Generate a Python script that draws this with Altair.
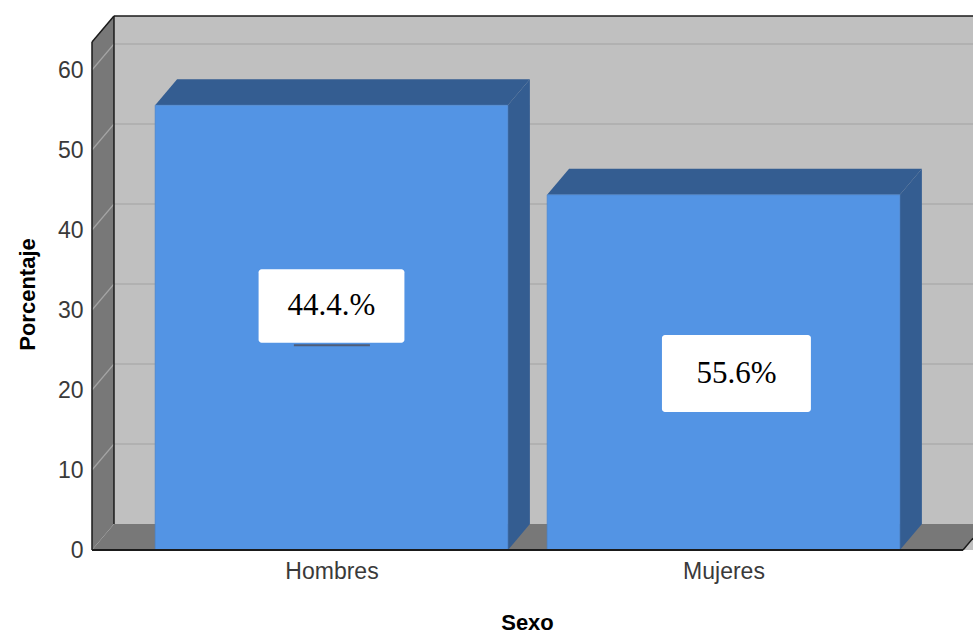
import altair as alt
import pandas as pd

# ---------------- data ----------------
categories = ["Hombres", "Mujeres"]
cat_pos = [1, 2]
percentages = [55.6, 44.4]
label_texts = ["44.4.%", "55.6%"]
label_pos_x = [1.0, 2.033]
label_pos_y = [30.5, 22.06]
y_ticks = [0, 10, 20, 30, 40, 50, 60]
grid_values = [10, 20, 30, 40, 50, 60]

# ---------------- geometry / style ----------------
X_MIN, X_MAX = 0.389, 2.6365
FLOOR_END = 2.611
DX, DY = 0.0561, 3.25
WALL_TOP = 63.5
Y_MAX = WALL_TOP + DY
HALF_W = 0.45
BOX_HW = [0.186, 0.19]
BOX_HH = [4.6, 4.8]

WALL = "#c0c0c0"
SIDE = "#787878"
GRID = "#adadad"
SIDE_GRID = "#a4a4a4"
FRONT = "#5394e4"
DARK = "#345d91"

xs = alt.Scale(domain=[X_MIN, X_MAX], nice=False, zero=False)
ys = alt.Scale(domain=[0, Y_MAX], nice=False, zero=False)

label_expr = " : ".join(f"datum.value == {p} ? '{c}'" for p, c in zip(cat_pos, categories)) + " : ''"

x_axis = alt.Axis(values=cat_pos, labelExpr=label_expr, title="Sexo", grid=False, ticks=False,
                  domain=False, labelFontSize=23, labelFont="Liberation Sans", labelColor="#3a3a3a",
                  labelPadding=10, titleFont="Liberation Sans", titleFontSize=22,
                  titleFontWeight="bold", titleColor="#000000", titleX=435, titleY=72,
                  titleAlign="center", titleBaseline="middle")
y_axis = alt.Axis(values=y_ticks, title="Porcentaje", grid=False, ticks=False, domain=False,
                  labelFontSize=23, labelFont="Liberation Sans", labelColor="#3a3a3a",
                  labelPadding=9, titleFont="Liberation Sans", titleFontSize=22,
                  titleFontWeight="bold", titleColor="#000000", titleX=-65, titleY=278,
                  titleAngle=270, titleAlign="center", titleBaseline="middle")


def X(field):
    return alt.X(field, scale=xs, axis=x_axis)


def Y(field):
    return alt.Y(field, scale=ys, axis=y_axis)


# back wall
wall_df = pd.DataFrame({"x": [X_MIN + DX], "x2": [X_MAX], "y": [0], "y2": [Y_MAX]})
back_wall = alt.Chart(wall_df).mark_rect(color=WALL).encode(
    x=X("x:Q"), x2="x2:Q", y=Y("y:Q"), y2="y2:Q",
)

# back wall gridlines
grid_df = pd.DataFrame({"x": [X_MIN + DX] * len(grid_values), "x2": [X_MAX] * len(grid_values),
                        "y": [v + DY for v in grid_values]})
back_grid = alt.Chart(grid_df).mark_rule(color=GRID, strokeWidth=1.5).encode(
    x=X("x:Q"), x2="x2:Q", y=Y("y:Q"),
)

# floor
floor_low_end = (X_MAX - FLOOR_END) / DX * DY
floor_df = pd.DataFrame({
    "x": [X_MIN, X_MIN + DX, FLOOR_END, X_MAX],
    "lo": [0, 0, 0, floor_low_end],
    "hi": [0, DY, DY, DY],
})
floor = alt.Chart(floor_df).mark_area(color=SIDE, orient="vertical", opacity=1).encode(
    x=X("x:Q"), y=Y("lo:Q"), y2="hi:Q",
)

# left side wall
side_df = pd.DataFrame({"x": [X_MIN, X_MIN + DX], "lo": [0, DY], "hi": [WALL_TOP, Y_MAX]})
side_wall = alt.Chart(side_df).mark_area(color=SIDE, orient="vertical", opacity=1).encode(
    x=X("x:Q"), y=Y("lo:Q"), y2="hi:Q",
)

side_grid_df = pd.DataFrame({"x": [X_MIN] * len(grid_values), "x2": [X_MIN + DX] * len(grid_values),
                             "y": grid_values, "y2": [v + DY for v in grid_values]})
side_grid = alt.Chart(side_grid_df).mark_rule(color=SIDE_GRID, strokeWidth=1.2).encode(
    x=X("x:Q"), x2="x2:Q", y=Y("y:Q"), y2="y2:Q",
)

# bars
bar_df = pd.DataFrame({"cat": categories, "pos": cat_pos, "val": percentages})
bar_df["x1"] = bar_df["pos"] - HALF_W
bar_df["x2"] = bar_df["pos"] + HALF_W
bar_df["zero"] = 0.0

side_rows, top_rows = [], []
for c, p, v in zip(categories, cat_pos, percentages):
    l, r = p - HALF_W, p + HALF_W
    side_rows += [{"cat": c, "x": r, "lo": 0, "hi": v},
                  {"cat": c, "x": r + DX, "lo": DY, "hi": v + DY}]
    top_rows += [{"cat": c, "x": l, "lo": v, "hi": v},
                 {"cat": c, "x": l + DX, "lo": v, "hi": v + DY},
                 {"cat": c, "x": r, "lo": v, "hi": v + DY},
                 {"cat": c, "x": r + DX, "lo": v + DY, "hi": v + DY}]

bar_sides = alt.Chart(pd.DataFrame(side_rows)).mark_area(color=DARK, orient="vertical", opacity=1).encode(
    x=X("x:Q"), y=Y("lo:Q"), y2="hi:Q", detail="cat:N",
)
bar_tops = alt.Chart(pd.DataFrame(top_rows)).mark_area(color=DARK, orient="vertical", opacity=1).encode(
    x=X("x:Q"), y=Y("lo:Q"), y2="hi:Q", detail="cat:N",
)
bar_fronts = alt.Chart(bar_df).mark_rect(color=FRONT, stroke="#4a82c8", strokeWidth=0.6).encode(
    x=X("x1:Q"), x2="x2:Q", y=Y("zero:Q"), y2="val:Q",
)

# black frame edges
edge_df = pd.DataFrame([
    {"x": X_MIN, "x2": X_MIN, "y": 0, "y2": WALL_TOP, "w": 1.5},
    {"x": X_MIN + DX, "x2": X_MIN + DX, "y": DY, "y2": Y_MAX, "w": 1.5},
    {"x": X_MIN, "x2": X_MIN + DX, "y": WALL_TOP, "y2": Y_MAX, "w": 1.5},
    {"x": X_MIN + DX, "x2": X_MAX, "y": Y_MAX, "y2": Y_MAX, "w": 1.5},
    {"x": X_MIN, "x2": FLOOR_END, "y": 0, "y2": 0, "w": 2.2},
    {"x": FLOOR_END, "x2": X_MAX, "y": 0, "y2": floor_low_end, "w": 1.5},
])
edges = alt.Chart(edge_df).mark_rule(color="#1a1a1a").encode(
    x=X("x:Q"), x2="x2:Q", y=Y("y:Q"), y2="y2:Q",
    strokeWidth=alt.StrokeWidth("w:Q", scale=None, legend=None),
)

# label boxes
lab_df = pd.DataFrame({"txt": label_texts, "x": label_pos_x, "y": label_pos_y,
                       "hw": BOX_HW, "hh": BOX_HH})
lab_df["bx1"] = lab_df["x"] - lab_df["hw"]
lab_df["bx2"] = lab_df["x"] + lab_df["hw"]
lab_df["by1"] = lab_df["y"] - lab_df["hh"]
lab_df["by2"] = lab_df["y"] + lab_df["hh"]

shadow_df = pd.DataFrame({"x": [label_pos_x[0] - 0.096], "x2": [label_pos_x[0] + 0.098],
                          "y": [label_pos_y[0] - BOX_HH[0] - 0.3]})
shadow = alt.Chart(shadow_df).mark_rule(color="#4e5d78", strokeWidth=2).encode(
    x=X("x:Q"), x2="x2:Q", y=Y("y:Q"),
)

boxes = alt.Chart(lab_df).mark_rect(color="white", cornerRadius=3).encode(
    x=X("bx1:Q"), x2="bx2:Q", y=Y("by1:Q"), y2="by2:Q",
)
texts = alt.Chart(lab_df).mark_text(font="Liberation Serif", fontSize=31, color="black",
                                    align="center", baseline="middle").encode(
    x=X("x:Q"), y=Y("y:Q"), text="txt:N",
)

chart = alt.layer(
    back_wall, back_grid, floor, side_wall, side_grid,
    bar_sides, bar_tops, bar_fronts, edges, shadow, boxes, texts,
).properties(
    width=881, height=534,
    autosize=alt.AutoSizeParams(type="none"),
    padding={"left": 92, "top": 16, "right": 0, "bottom": 83},
    background="white",
).configure_view(stroke=None)

chart.save("out.html", embed_options={"renderer": "svg", "actions": False})
